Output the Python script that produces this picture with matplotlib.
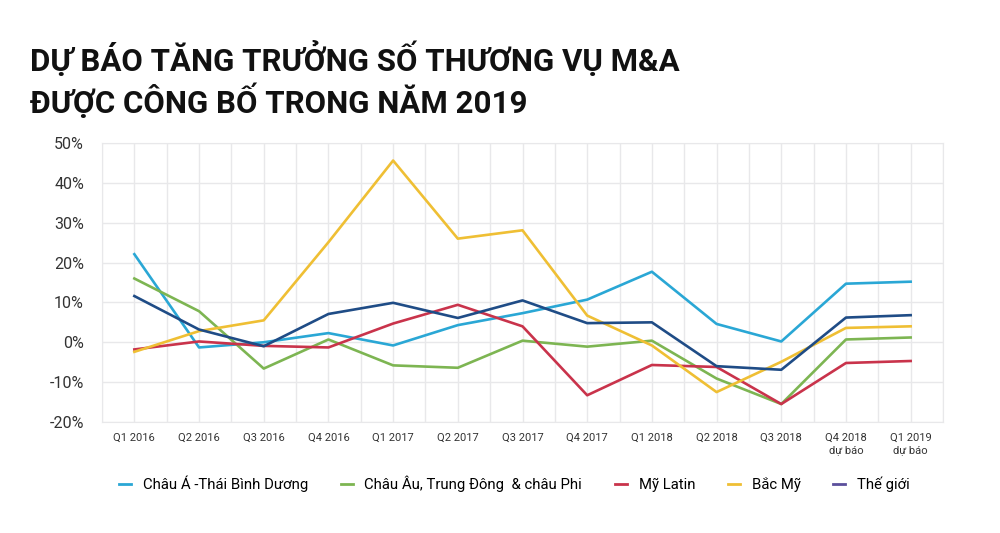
import matplotlib
matplotlib.use('Agg')
import matplotlib.pyplot as plt
from matplotlib.lines import Line2D
import numpy as np

# Dữ liệu (%)
quarters = ['Q1 2016', 'Q2 2016', 'Q3 2016', 'Q4 2016', 'Q1 2017', 'Q2 2017', 'Q3 2017',
            'Q4 2017', 'Q1 2018', 'Q2 2018', 'Q3 2018', 'Q4 2018\ndự báo', 'Q1 2019\ndự báo']
chau_a = [22.1, -1.3, 0.0, 2.3, -0.8, 4.3, 7.3, 10.7, 17.7, 4.6, 0.2, 14.7, 15.2]
chau_au = [16.0, 7.8, -6.6, 0.7, -5.8, -6.4, 0.4, -1.1, 0.4, -9.1, -15.5, 0.7, 1.2]
my_latin = [-1.8, 0.2, -0.9, -1.3, 4.7, 9.4, 4.0, -13.3, -5.7, -6.2, -15.5, -5.2, -4.7]
bac_my = [-2.4, 2.8, 5.5, 25.1, 45.6, 26.0, 28.1, 6.7, -0.8, -12.5, -4.9, 3.6, 4.0]
the_gioi = [11.6, 3.2, -1.0, 7.1, 9.9, 6.1, 10.5, 4.8, 5.0, -6.0, -6.9, 6.2, 6.8]

series_names = ['Châu Á -Thái Bình Dương', 'Châu Âu, Trung Đông  & châu Phi', 'Mỹ Latin', 'Bắc Mỹ', 'Thế giới']
line_colors = ['#2aa7d5', '#7db552', '#c9334b', '#efbf34', '#1f4c86']
legend_colors = ['#2aa7d5', '#7db552', '#c9334b', '#efbf34', '#5b4f9c']

plt.rcParams['font.family'] = ['Roboto', 'DejaVu Sans']

fig = plt.figure(figsize=(10, 5.33), dpi=100)
ax = fig.add_axes([0.102, 0.2083, 0.841, 0.5234])

x = np.arange(len(quarters))
for vals, c in zip([chau_a, chau_au, my_latin, bac_my, the_gioi], line_colors):
    ax.plot(x, vals, color=c, lw=1.9)

ax.set_xlim(-0.5, len(quarters) - 0.5)
ax.set_ylim(-20, 50)
ax.set_yticks(range(-20, 51, 10))
ax.set_yticklabels([f'{v}%' for v in range(-20, 51, 10)], fontsize=11.5, color='#333333')
ax.set_xticks(x)
ax.set_xticklabels(quarters, fontsize=8, color='#333333', linespacing=1.25)
ax.set_xticks(np.arange(-0.5, len(quarters), 1), minor=True)
ax.tick_params(axis='both', which='both', length=0)
ax.tick_params(axis='x', pad=8)
ax.tick_params(axis='y', pad=13)
ax.grid(True, which='both', color='#e8e8ea', lw=1)
ax.set_axisbelow(True)
for s in ax.spines.values():
    s.set_color('#e8e8ea')

fig.text(0.03, 0.85, 'DỰ BÁO TĂNG TRƯỞNG SỐ THƯƠNG VỤ M&A\nĐƯỢC CÔNG BỐ TRONG NĂM 2019',
         fontsize=22.5, fontweight='bold', color='#111111', va='center', ha='left',
         linespacing=1.25)

handles = [Line2D([0], [0], color=c, lw=2) for c in legend_colors]
fig.legend(handles, series_names, loc='center left', bbox_to_anchor=(0.119, 0.092),
           ncol=5, frameon=False, fontsize=10.7, handlelength=0.8, handletextpad=0.8,
           columnspacing=2.2, borderaxespad=0, borderpad=0)

fig.savefig('out.png', dpi=100)
